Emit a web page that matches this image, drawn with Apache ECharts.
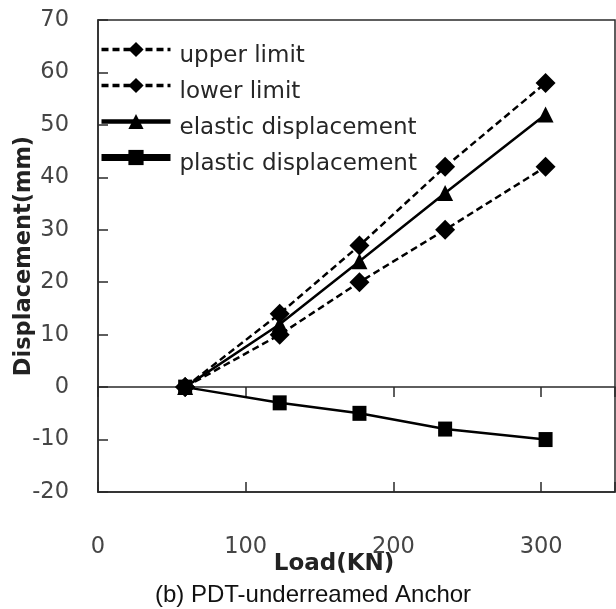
<!DOCTYPE html>
<html>
<head>
<meta charset="utf-8">
<script src="https://cdn.jsdelivr.net/npm/echarts@6/dist/echarts.min.js"></script>
<style>html,body{margin:0;padding:0;background:#fff}#c{width:616px;height:609px}</style>
</head>
<body>
<div id="c"></div>
<script>
var loads = [59, 123, 177, 235, 303];
var upperLimit = [0, 14, 27, 42, 58];
var lowerLimit = [0, 10, 20, 30, 42];
var elastic = [0, 12, 24, 37, 52];
var plastic = [0, -3, -5, -8, -10];
var seriesNames = ['upper limit', 'lower limit', 'elastic displacement', 'plastic displacement'];
var xTitle = 'Load(KN)';
var yTitle = 'Displacement(mm)';
var caption = '(b) PDT-underreamed Anchor';

function pairs(ys) { return loads.map(function (x, i) { return [x, ys[i]]; }); }

var chart = echarts.init(document.getElementById('c'));
var axisCol = '#2a2a2a';
var labelCol = '#454545';
var common = {
  type: 'value', min: 0, max: 350, interval: 100, splitLine: { show: false }
};
chart.setOption({
  animation: false,
  title: {
    text: caption, left: 313, textAlign: 'center', top: 583, padding: 0,
    textStyle: { fontFamily: 'Liberation Sans', fontWeight: 'normal', fontSize: 24, color: '#111' }
  },
  grid: { left: 98, top: 20, right: 1, bottom: 117, show: true, borderColor: axisCol, borderWidth: 1.5,
    containLabel: false, outerBoundsMode: 'none' },
  legend: {
    orient: 'vertical', left: 98, top: 31, padding: 0, itemWidth: 69, itemHeight: 19, itemGap: -1,
    formatter: function (n) { return '{t|' + n + '}'; },
    textStyle: {
      fontFamily: 'DejaVu Sans', fontSize: 23, color: '#262626',
      rich: { t: { fontFamily: 'DejaVu Sans', fontSize: 23, lineHeight: 22, color: '#262626', padding: [14, 0, 0, 4] } }
    },
    data: [
      { name: seriesNames[0], lineStyle: { width: 3.5 } },
      { name: seriesNames[1], lineStyle: { width: 3.5 } },
      { name: seriesNames[2], lineStyle: { width: 4.5 } },
      { name: seriesNames[3], lineStyle: { width: 7 } }
    ]
  },
  xAxis: [
    Object.assign({}, common, {
      position: 'bottom', axisLine: { show: false, onZero: false }, axisTick: { show: false },
      axisLabel: { margin: 44, color: labelCol, fontFamily: 'DejaVu Sans', fontSize: 22.5, showMaxLabel: false },
      name: xTitle, nameLocation: 'middle', nameGap: 61, nameMoveOverlap: false,
      nameTextStyle: { fontFamily: 'DejaVu Sans', fontWeight: 'bold', fontSize: 23, color: '#222', padding: [0, 45, 0, 0] }
    }),
    Object.assign({}, common, {
      position: 'bottom', axisLine: { show: true, onZero: true, lineStyle: { color: axisCol, width: 1.5 } },
      axisTick: { show: true, inside: false, length: 10, lineStyle: { color: axisCol, width: 1.5 } },
      axisLabel: { show: false }
    }),
    Object.assign({}, common, {
      position: 'bottom', axisLine: { show: true, onZero: true, lineStyle: { color: axisCol, width: 1.5 } },
      axisTick: { show: true, inside: true, length: 10, lineStyle: { color: axisCol, width: 1.5 } },
      axisLabel: { show: false }
    })
  ],
  yAxis: {
    type: 'value', min: -20, max: 70, interval: 10, splitLine: { show: false },
    axisLine: { show: true, lineStyle: { color: axisCol, width: 1.5 } },
    axisTick: { show: true, inside: true, length: 10, lineStyle: { color: axisCol, width: 1.5 } },
    axisLabel: { margin: 29, color: labelCol, fontFamily: 'DejaVu Sans', fontSize: 22.5 },
    name: yTitle, nameLocation: 'middle', nameGap: 62, nameRotate: 90, nameMoveOverlap: false,
    nameTextStyle: { fontFamily: 'DejaVu Sans', fontWeight: 'bold', fontSize: 22.5, color: '#222' }
  },
  series: [
    { name: seriesNames[0], type: 'line', data: pairs(upperLimit), symbol: 'diamond', symbolSize: 20,
      itemStyle: { color: '#000' }, lineStyle: { color: '#000', width: 2.5, type: [7, 4] } },
    { name: seriesNames[1], type: 'line', data: pairs(lowerLimit), symbol: 'diamond', symbolSize: 20,
      itemStyle: { color: '#000' }, lineStyle: { color: '#000', width: 2.5, type: [7, 4] } },
    { name: seriesNames[2], type: 'line', data: pairs(elastic), symbol: 'triangle', symbolSize: 16,
      itemStyle: { color: '#000' }, lineStyle: { color: '#000', width: 2.5 } },
    { name: seriesNames[3], type: 'line', data: pairs(plastic), symbol: 'rect', symbolSize: [14, 15],
      itemStyle: { color: '#000' }, lineStyle: { color: '#000', width: 2.5 } }
  ]
});
</script>
</body>
</html>
